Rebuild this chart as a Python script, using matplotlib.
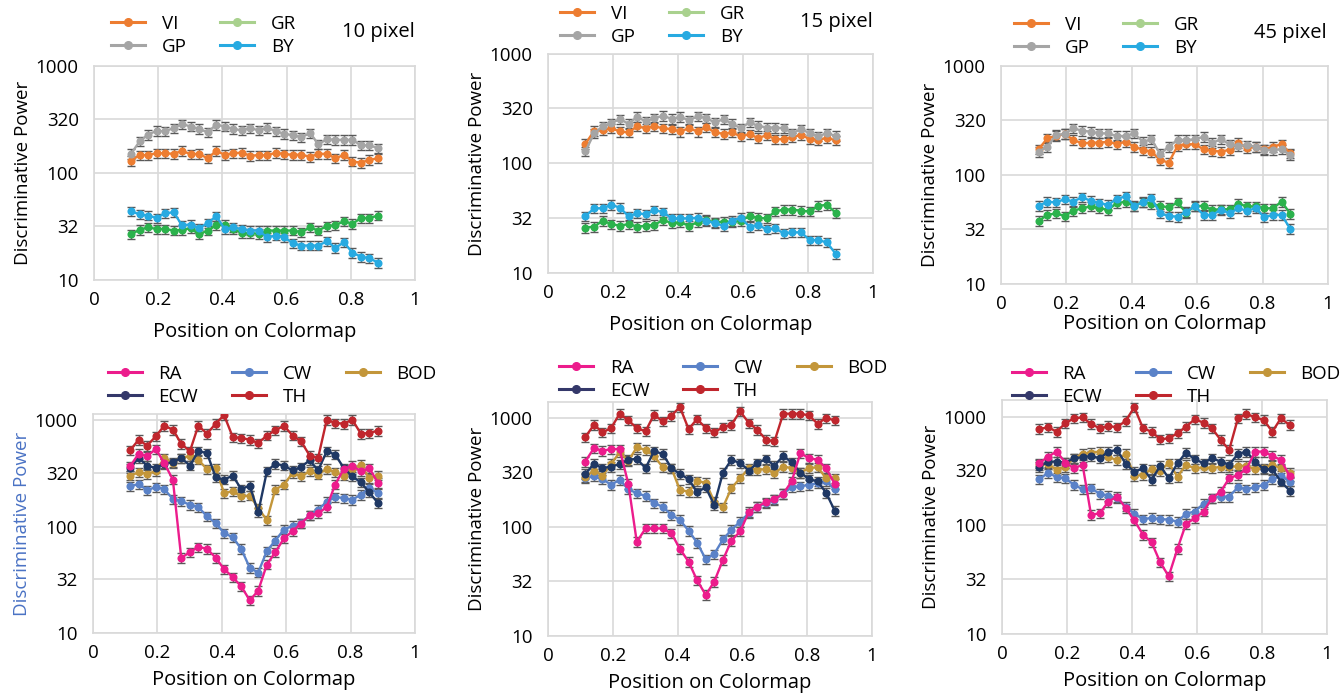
import matplotlib
matplotlib.use('Agg')
import matplotlib.pyplot as plt
from matplotlib.lines import Line2D

plt.rcParams['font.family'] = ['Open Sans', 'DejaVu Sans']

# positions on the colormap (shared by all panels)
x_pos = [0.115, 0.142, 0.168, 0.195, 0.221, 0.248, 0.274, 0.301, 0.327, 0.354,
         0.381, 0.407, 0.434, 0.460, 0.487, 0.513, 0.540, 0.566, 0.593, 0.620,
         0.646, 0.673, 0.699, 0.726, 0.752, 0.779, 0.805, 0.832, 0.858, 0.885]

# ---- top row: 10 / 15 / 45 pixel, VI GP GR BY
p1_vi = [130, 147, 147, 153, 153, 151, 161, 150, 151, 137, 161, 148, 153, 155, 145,
         147, 146, 155, 150, 148, 148, 142, 151, 151, 137, 148, 128, 125, 133, 137]
p1_gp = [151, 197, 228, 248, 245, 263, 287, 272, 259, 240, 283, 272, 259, 250, 263,
         250, 265, 245, 233, 225, 216, 236, 186, 207, 204, 204, 204, 181, 181, 171]
p1_gr = [26.7, 29.5, 31, 30, 30, 29, 29.5, 30.5, 26.7, 29, 32.5, 33, 30, 27.5, 27.5,
         27, 29, 29, 29, 29, 28, 31, 29, 32, 32.5, 35.5, 33.5, 38, 38, 40]
p1_by = [44, 41, 40, 38, 42, 43, 32.5, 33, 30.5, 34, 39.5, 30, 31, 30, 29,
         29, 25, 26, 25, 22, 21, 21, 21, 23, 20, 22.5, 18, 16.5, 16, 14.5]

p2_vi = [151, 199, 203, 210, 196, 192, 218, 210, 218, 210, 206, 196, 210, 196, 215,
         192, 187, 192, 177, 185, 171, 181, 167, 167, 173, 183, 167, 165, 171, 163]
p2_gp = [129, 189, 218, 234, 254, 231, 266, 242, 260, 272, 256, 266, 248, 269, 260,
         237, 254, 231, 210, 237, 221, 213, 213, 210, 189, 206, 189, 177, 189, 179]
p2_gr = [26, 26.5, 30, 28, 27, 28, 26.5, 27, 27.5, 30.5, 28.5, 29, 27, 29, 30.5,
         29, 29.5, 29, 30, 33, 32, 31.5, 36.5, 38, 38, 37, 36.5, 41, 42, 35.5]
p2_by = [33, 39, 39, 42, 39.5, 33, 35, 34.5, 37.5, 36, 31.5, 31.5, 31.5, 32, 30,
         28.5, 27, 30, 32, 26.5, 27.5, 25, 25.5, 23, 23.5, 23.5, 20, 20, 19, 15]

p3_vi = [173, 217, 228, 238, 210, 195, 198, 198, 202, 192, 202, 182, 170, 164, 137,
         130, 185, 192, 191, 172, 167, 164, 170, 198, 176, 182, 172, 182, 192, 158]
p3_gp = [164, 182, 233, 238, 268, 255, 250, 241, 241, 228, 228, 241, 202, 212, 156,
         182, 210, 210, 212, 225, 198, 212, 192, 185, 188, 182, 170, 170, 172, 153]
p3_gr = [38, 43, 44.5, 42, 47, 49.5, 51.5, 49.5, 48, 55, 57, 51.5, 57, 54.5, 52,
         50.5, 56, 45, 52, 52, 48, 48.5, 48.5, 54.5, 51.5, 51.5, 49.5, 49.5, 57, 44]
p3_by = [52, 57, 56, 60, 57, 62.5, 58, 55, 53.5, 60, 64, 52, 56, 61, 44.5,
         42, 41.5, 46, 51.5, 43, 43, 48, 44.5, 49.5, 47, 49.5, 41, 43, 43, 32]

# ---- bottom row: RA CW ECW TH BOD
p4_ra = [369, 486, 459, 538, 397, 277, 51, 57.5, 64.5, 62, 51, 40, 33.5, 27.5, 20.3,
         25, 44, 57.5, 77.5, 91, 107, 128, 133, 153, 249, 349, 375, 331, 356, 258]
p4_cw = [239, 252, 220, 236, 226, 182, 173, 161, 153, 125, 108, 87, 79.5, 62, 41,
         37, 59, 74, 94, 102, 108, 128, 145, 171, 190, 186, 179, 200, 231, 207]
p4_ecw = [356, 443, 375, 356, 391, 403, 443, 375, 512, 493, 291, 277, 302, 226, 243,
          136, 331, 391, 375, 338, 364, 421, 338, 512, 476, 356, 297, 261, 210, 167]
p4_th = [522, 658, 578, 707, 891, 817, 603, 512, 891, 749, 930, 1120, 697, 682, 658,
         612, 718, 805, 891, 718, 635, 466, 443, 1014, 944, 930, 1014, 749, 760, 800]
p4_bod = [302, 324, 315, 331, 443, 397, 443, 459, 427, 346, 356, 207, 215, 193, 196,
          150, 115, 223, 249, 320, 297, 331, 309, 351, 324, 302, 346, 383, 286, 302]

p5_ra = [399, 530, 500, 519, 519, 249, 73, 97, 97, 97, 87.5, 63, 48, 32.5, 23.8,
         31.5, 50, 75, 91, 138, 154, 169, 180, 202, 262, 476, 429, 414, 347, 249]
p5_cw = [281, 291, 275, 244, 271, 222, 204, 193, 165, 154, 129, 116, 92.5, 72, 50.5,
         56.5, 77, 94, 112, 134, 154, 165, 178, 202, 232, 236, 244, 252, 262, 222]
p5_ecw = [307, 380, 347, 359, 377, 414, 423, 347, 494, 470, 347, 307, 275, 209, 231,
          159, 316, 414, 386, 330, 386, 420, 365, 450, 391, 316, 275, 262, 207, 141]
p5_th = [668, 868, 738, 809, 1096, 952, 809, 754, 1073, 932, 1051, 1262, 792, 979, 809,
         738, 826, 868, 1152, 900, 781, 632, 610, 1096, 1096, 1096, 1058, 887, 1000, 952]
p5_bod = [287, 330, 295, 380, 483, 405, 537, 511, 450, 354, 347, 219, 211, 262, 256,
          171, 152, 227, 281, 347, 335, 340, 312, 359, 347, 316, 347, 354, 281, 281]

p6_ra = [373, 429, 477, 378, 335, 360, 125, 129, 165, 184, 144, 111, 82, 70, 45.5,
         34, 61, 103, 116, 134, 178, 204, 271, 291, 328, 477, 477, 435, 400, 285]
p6_cw = [265, 306, 277, 271, 236, 215, 219, 195, 188, 178, 149, 128, 114, 117, 114,
         113, 108, 128, 134, 158, 178, 184, 184, 224, 215, 224, 236, 265, 285, 253]
p6_ecw = [347, 386, 386, 378, 414, 423, 435, 414, 477, 494, 367, 312, 335, 262, 352,
          271, 373, 467, 405, 373, 414, 386, 360, 454, 477, 386, 328, 328, 253, 209]
p6_th = [770, 798, 728, 869, 965, 986, 856, 781, 821, 798, 919, 1218, 781, 728, 619,
         632, 703, 809, 945, 881, 781, 610, 494, 965, 1058, 986, 932, 728, 965, 838]
p6_bod = [360, 367, 324, 347, 414, 454, 467, 477, 423, 400, 454, 285, 291, 328, 319,
          373, 281, 360, 335, 342, 335, 347, 342, 352, 352, 328, 335, 360, 335, 306]

ERR_FRAC = 0.1  # approximate relative size of the error bars

x_ticks = [0, 0.2, 0.4, 0.6, 0.8, 1]
x_tick_labels = ['0', '0.2', '0.4', '0.6', '0.8', '1']
y_ticks = [10, 32, 100, 320, 1000]
y_tick_labels = ['10', '32', '100', '320', '1000']

top_names = ['VI', 'GP', 'GR', 'BY']
top_colors = {'VI': '#ed7d31', 'GP': '#a5a5a5', 'GR': '#2bb24c', 'BY': '#27aae1'}
top_legend_colors = {'VI': '#ed7d31', 'GP': '#a5a5a5', 'GR': '#a9d18e', 'BY': '#27aae1'}
bot_names = ['RA', 'ECW', 'CW', 'TH', 'BOD']
bot_colors = {'RA': '#ec1c8c', 'CW': '#5a82c8', 'ECW': '#1f3864',
              'TH': '#c0262d', 'BOD': '#c3963a'}
bot_legend_colors = {'RA': '#ec1c8c', 'CW': '#5a82c8', 'ECW': '#34386a',
                     'TH': '#c0262d', 'BOD': '#c3963a'}

W, H = 1340, 696
fig = plt.figure(figsize=(W / 100, H / 100), dpi=100)


def rect(l, t, r, b):
    return [l / W, 1 - b / H, (r - l) / W, (b - t) / H]


panels = [
    dict(box=(94, 66, 415, 280), ytop=1000, leg=(111, 15), ncol=2, title='10 pixel',
         tpos=(415, 32), series={'VI': p1_vi, 'GP': p1_gp, 'GR': p1_gr, 'BY': p1_by}),
    dict(box=(548, 54, 873, 273), ytop=1000, leg=(560, 5), ncol=2, title='15 pixel',
         tpos=(873, 22), series={'VI': p2_vi, 'GP': p2_gp, 'GR': p2_gr, 'BY': p2_by}),
    dict(box=(1001, 66, 1328, 284), ytop=1000, leg=(1014, 16), ncol=2, title='45 pixel',
         tpos=(1327, 33), series={'VI': p3_vi, 'GP': p3_gp, 'GR': p3_gr, 'BY': p3_by}),
    dict(box=(93, 414, 415, 633), ytop=1147, leg=(108, 365), ncol=3, title=None,
         series={'RA': p4_ra, 'CW': p4_cw, 'ECW': p4_ecw, 'TH': p4_th, 'BOD': p4_bod}),
    dict(box=(548, 402, 872, 636), ytop=1403, leg=(559, 359), ncol=3, title=None,
         series={'RA': p5_ra, 'CW': p5_cw, 'ECW': p5_ecw, 'TH': p5_th, 'BOD': p5_bod}),
    dict(box=(1002, 400, 1327, 634), ytop=1423, leg=(1012, 365), ncol=3, title=None,
         series={'RA': p6_ra, 'CW': p6_cw, 'ECW': p6_ecw, 'TH': p6_th, 'BOD': p6_bod}),
]

for i, p in enumerate(panels):
    ax = fig.add_axes(rect(*p['box']))
    top = i < 3
    colors = top_colors if top else bot_colors
    leg_colors = top_legend_colors if top else bot_legend_colors
    names = top_names if top else bot_names
    draw_order = ['VI', 'GR', 'GP', 'BY'] if top else ['CW', 'BOD', 'ECW', 'RA', 'TH']
    for name in draw_order:
        vals = p['series'][name]
        err = [v * ERR_FRAC for v in vals]
        ax.errorbar(x_pos, vals, yerr=err, color=colors[name], ecolor='#595959',
                    elinewidth=1, capsize=3, capthick=1, lw=1.7, marker='o', ms=4.8,
                    zorder=3)
    ax.set_yscale('log')
    ax.set_xlim(0, 1)
    ax.set_ylim(10, p['ytop'])
    ax.set_xticks(x_ticks)
    ax.set_xticklabels(x_tick_labels)
    ax.set_yticks(y_ticks)
    ax.set_yticklabels(y_tick_labels)
    ax.minorticks_off()
    ax.tick_params(length=0, labelsize=13.5, pad=8)
    ax.tick_params(axis='y', pad=11)
    ax.grid(True, color='#d9d9d9', lw=1.2)
    ax.set_axisbelow(True)
    for s in ax.spines.values():
        s.set_color('#d9d9d9')
        s.set_linewidth(1.2)
    pad = 1 if i == 2 else (6 if i >= 3 else 9)
    ax.set_xlabel('Position on Colormap', fontsize=14.5, labelpad=pad)
    ycol = '#4a72c4' if i == 3 else 'black'
    ax.set_ylabel('Discriminative Power', fontsize=13.5, color=ycol, labelpad=3)

    handles = [Line2D([], [], color=leg_colors[n], marker='o', ms=5.5, lw=2.2) for n in names]
    ax.legend(handles, names, loc='upper left', ncol=p['ncol'], frameon=False,
              bbox_to_anchor=(p['leg'][0] / W, 1 - p['leg'][1] / H),
              bbox_transform=fig.transFigure, borderpad=0, borderaxespad=0,
              fontsize=13.5, handlelength=1.8, handletextpad=0.9,
              columnspacing=1.8, labelspacing=0.25)
    if p['title']:
        fig.text(p['tpos'][0] / W, 1 - p['tpos'][1] / H, p['title'], fontsize=14.5,
                 ha='right', va='center')

fig.savefig('out.png', dpi=100)
